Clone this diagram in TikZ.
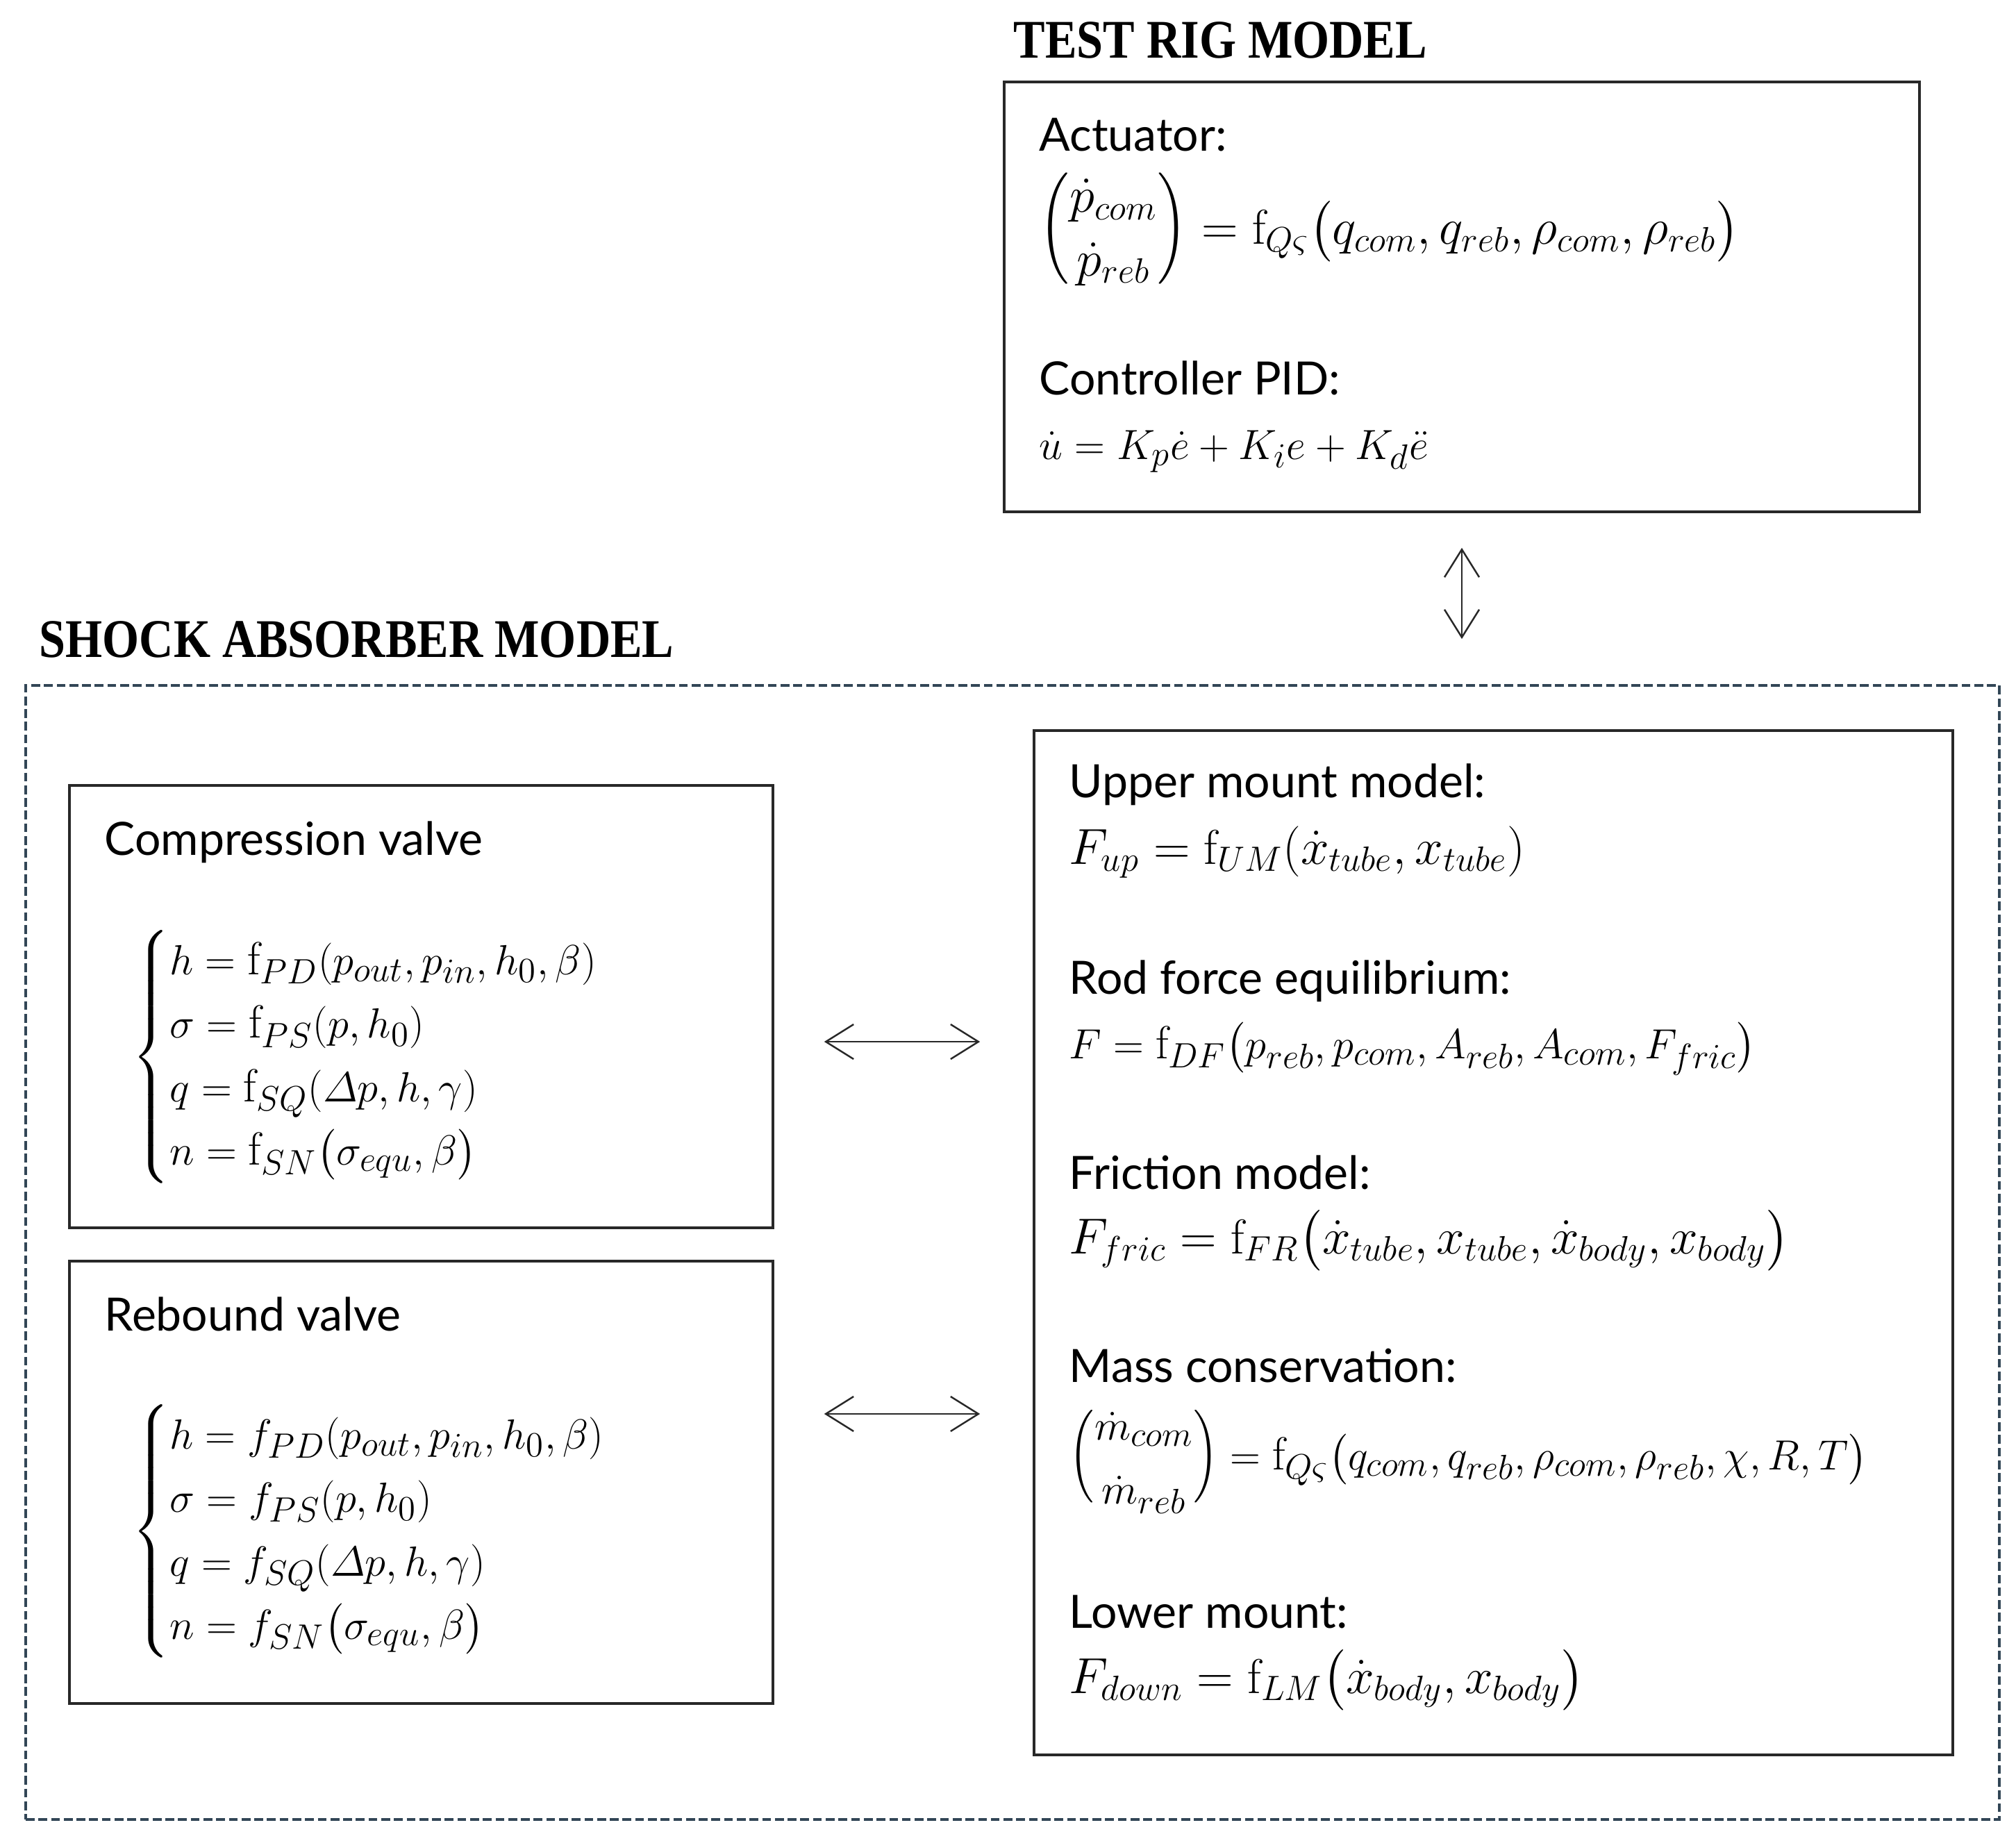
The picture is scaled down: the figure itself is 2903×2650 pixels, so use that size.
\documentclass[tikz,border=0pt]{standalone}
\usepackage{amsmath}
\usepackage{graphicx}
\usepackage{fontspec}
\usetikzlibrary{arrows.meta,fit}
\newfontfamily\labfont{Lato}
\newfontfamily\titfont{Liberation Serif}
\definecolor{dashcol}{RGB}{50,70,86}
\definecolor{boxcol}{RGB}{40,40,40}
\newcommand{\vecpair}[2]{\mathopen{\scalebox{1}[1.22]{$\Bigl($}}\begin{matrix}#1\\ #2\end{matrix}\mathclose{\scalebox{1}[1.22]{$\Bigr)$}}}
\tikzset{
  lab/.style={font=\labfont\fontsize{18.8}{22}\selectfont, anchor=base west, inner sep=0pt},
  eqb/.style={font=\fontsize{19}{26}\selectfont, anchor=base west, inner sep=0pt},
  eqB/.style={font=\fontsize{20}{26}\selectfont, anchor=base west, inner sep=0pt},
  eqc/.style={font=\fontsize{19}{26}\selectfont, anchor=west, inner sep=0pt},
  eqC/.style={font=\fontsize{20}{26}\selectfont, anchor=west, inner sep=0pt},
  ttl/.style={font=\titfont\bfseries\fontsize{22.3}{26}\selectfont, anchor=base west, inner sep=0pt},
  solidbox/.style={draw=boxcol, line width=1pt, inner sep=0pt},
  dashbox/.style={draw=dashcol, line width=1.1pt, dash pattern=on 3.6pt off 1.6pt, inner sep=0pt},
  dblarr/.style={{Straight Barb[length=0.4cm,width=0.5cm]}-{Straight Barb[length=0.4cm,width=0.5cm]}, line width=0.7pt, draw=boxcol}
}
\begin{document}
\begin{tikzpicture}[x=0.01cm,y=-0.01cm]
\useasboundingbox (0,0) rectangle (2903,2650);
% boxes
\node[solidbox, fit={(1446,118) (2764,737)}] (testrig) {};
\node[dashbox, fit={(37,987) (2879,2620)}] (shock) {};
\node[solidbox, fit={(100,1131) (1113,1768)}] (comp) {};
\node[solidbox, fit={(100,1816) (1113,2453)}] (reb) {};
\node[solidbox, fit={(1489,1052) (2812,2527)}] (right) {};
% titles
\node[ttl] (t1) at (1459,83) {\scalebox{0.87}[1]{TEST RIG MODEL}};
\node[ttl] (t2) at (56,946) {\scalebox{0.87}[1]{SHOCK ABSORBER MODEL}};
% test rig
\node[lab] (act) at (1496,217) {Actuator:};
\node[eqC] (acteq) at (1496,333) {$\vecpair{\dot p_{com}}{\dot p_{reb}} = \mathrm{f}_{Q\varsigma}\bigl(q_{com}, q_{reb}, \rho_{com}, \rho_{reb}\bigr)$};
\node[lab] (pid) at (1496,568) {Controller PID:};
\node[eqb] (pideq) at (1496,661) {$\dot u = K_p\dot e + K_i e + K_d\ddot e$};
% compression valve
\node[lab] (cv) at (150,1231) {Compression valve};
\node[eqc] (cveq) at (190,1522) {$\left\{\begin{array}{@{}l@{}}
 h = \mathrm{f}_{PD}(p_{out}, p_{in}, h_0, \beta)\\
 \sigma = \mathrm{f}_{PS}(p, h_0)\\
 q = \mathrm{f}_{SQ}(\varDelta p, h, \gamma)\\
 n = \mathrm{f}_{SN}\bigl(\sigma_{equ}, \beta\bigr)
 \end{array}\right.$};
% rebound valve
\node[lab] (rv) at (150,1916) {Rebound valve};
\node[eqc] (rveq) at (190,2205) {$\left\{\begin{array}{@{}l@{}}
 h = f_{PD}(p_{out}, p_{in}, h_0, \beta)\\
 \sigma = f_{PS}(p, h_0)\\
 q = f_{SQ}(\varDelta p, h, \gamma)\\
 n = f_{SN}\bigl(\sigma_{equ}, \beta\bigr)
 \end{array}\right.$};
% right box
\node[lab] (um) at (1539,1148) {Upper mount model:};
\node[eqB] (umeq) at (1539,1244) {$F_{up} = \mathrm{f}_{UM}(\dot x_{tube}, x_{tube})$};
\node[lab] (rf) at (1539,1431) {Rod force equilibrium:};
\node[eqb] (rfeq) at (1539,1524) {$F = \mathrm{f}_{DF}\bigl(p_{reb}, p_{com}, A_{reb}, A_{com}, F_{fric}\bigr)$};
\node[lab] (fm) at (1539,1712) {Friction model:};
\node[eqB] (fmeq) at (1539,1805) {$F_{fric} = \mathrm{f}_{FR}\bigl(\dot x_{tube}, x_{tube}, \dot x_{body}, x_{body}\bigr)$};
\node[lab] (mc) at (1539,1990) {Mass conservation:};
\node[eqc] (mceq) at (1539,2101) {$\vecpair{\dot m_{com}}{\dot m_{reb}} = \mathrm{f}_{Q\varsigma}\bigl(q_{com}, q_{reb}, \rho_{com}, \rho_{reb}, \chi, R, T\bigr)$};
\node[lab] (lm) at (1539,2344) {Lower mount:};
\node[eqB] (lmeq) at (1539,2438) {$F_{down} = \mathrm{f}_{LM}\bigl(\dot x_{body}, x_{body}\bigr)$};
% connectors
\draw[dblarr, shorten <=0.5cm, shorten >=0.65cm] (testrig.south) -- (testrig.south |- shock.north);
\draw[dblarr, shorten <=0.72cm, shorten >=0.76cm] ([yshift=-0.505cm]comp.east) -- ([yshift=-0.505cm]comp.east -| right.west);
\draw[dblarr, shorten <=0.72cm, shorten >=0.76cm] ([yshift=0.985cm]reb.east) -- ([yshift=0.985cm]reb.east -| right.west);
\end{tikzpicture}
\end{document}
